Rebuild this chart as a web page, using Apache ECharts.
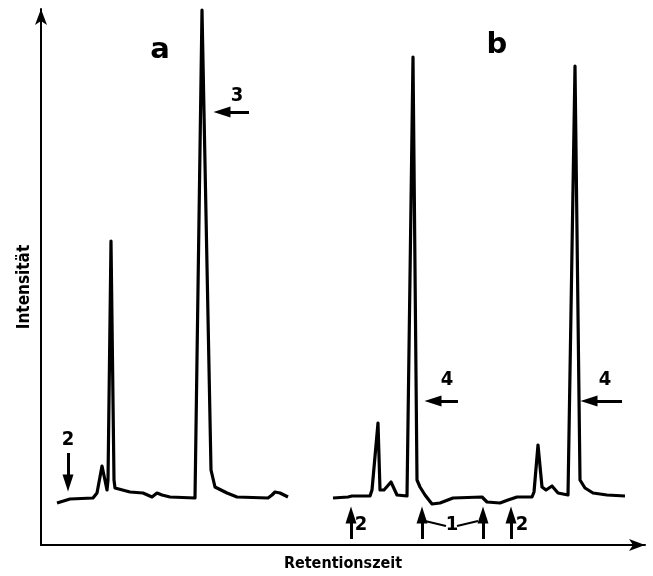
<!DOCTYPE html>
<html>
<head>
<meta charset="utf-8">
<script src="https://cdn.jsdelivr.net/npm/echarts@6.0.0/dist/echarts.min.js"></script>
<style>
  html, body { margin: 0; padding: 0; background: #fff; }
  #chart { width: 653px; height: 576px; }
</style>
</head>
<body>
<div id="chart"></div>
<script>
// chromatogram a: retention time / intensity (arbitrary units)
const timeA = [16, 29, 52, 56, 61, 66, 67, 70, 73, 74, 76, 89, 102, 111, 116, 121, 129, 154, 161, 170, 174, 186, 196, 227, 231, 234, 239, 247];
const intensityA = [42, 46, 47, 52, 79, 55, 65, 304, 65, 57, 55, 53, 52, 48, 52, 50, 48, 47, 535, 75, 58, 52, 48, 47, 50, 53, 52, 48];

// chromatogram b
const timeB = [292, 307, 311, 329, 331, 337, 339, 343, 350, 356, 366, 372, 376, 379, 384, 391, 399, 412, 441, 446, 459, 467, 476, 491, 493, 497, 501, 505, 511, 517, 527, 534, 539, 544, 552, 566, 584];
const intensityB = [47, 48, 49, 49, 55, 122, 55, 55, 63, 50, 49, 488, 65, 58, 50, 41, 42, 47, 48, 43, 42, 45, 48, 48, 53, 100, 58, 55, 59, 52, 50, 479, 65, 57, 52, 50, 49];

// peak annotations
const labelTexts = ['a', 'b', '2', '3', '4', '4', '2', '1', '2'];
const labelTimes = [119, 456, 27, 196, 406, 564, 320, 411, 481];
const labelLevels = [495, 500, 105, 449, 165, 165, 20, 20, 20];
const labelSizes = [29, 29, 20, 20, 20, 20, 20, 20, 20];

// arrows: [t1, y1, t2, y2]
const arrows = [
  [27, 92, 27, 62],
  [208, 433, 181, 433],
  [417, 144, 392, 144],
  [581, 144, 548, 144],
  [310, 6, 310, 30],
  [381, 6, 381, 30],
  [442, 6, 442, 30],
  [470, 6, 470, 30]
];
const dashes = [
  [384, 24, 405, 19],
  [416, 19, 437, 24]
];

const font = '"DejaVu Sans Condensed", "DejaVu Sans", sans-serif';

const chart = echarts.init(document.getElementById('chart'));
chart.setOption({
  animation: false,
  grid: { left: 41, right: 8, top: 9, bottom: 31, outerBoundsMode: 'none' },
  xAxis: {
    type: 'value', min: 0, max: 604,
    name: 'Retentionszeit', nameLocation: 'middle', nameGap: 11,
    nameTextStyle: { fontFamily: font, fontWeight: 'bold', fontSize: 16, color: '#000' },
    axisLine: { lineStyle: { color: '#000', width: 2 }, symbol: ['none', 'arrow'], symbolSize: [9, 16] },
    axisTick: { show: false }, axisLabel: { show: false }, splitLine: { show: false }
  },
  yAxis: {
    type: 'value', min: 0, max: 536,
    name: 'Intensität', nameLocation: 'middle', nameGap: 8, nameRotate: 90,
    nameTextStyle: { fontFamily: font, fontWeight: 'bold', fontSize: 17, color: '#000', padding: [0, 20, 0, 0] },
    axisLine: { lineStyle: { color: '#000', width: 2 }, symbol: ['none', 'arrow'], symbolSize: [9, 16] },
    axisTick: { show: false }, axisLabel: { show: false }, splitLine: { show: false }
  },
  series: [
    {
      type: 'line', showSymbol: false, silent: true,
      lineStyle: { color: '#000', width: 3.2, join: 'round' },
      data: timeA.map((t, i) => [t, intensityA[i]])
    },
    {
      type: 'line', showSymbol: false, silent: true,
      lineStyle: { color: '#000', width: 3.2, join: 'round' },
      data: timeB.map((t, i) => [t, intensityB[i]])
    },
    {
      type: 'scatter', silent: true, symbolSize: 1,
      itemStyle: { color: 'transparent', opacity: 1 },
      label: {
        show: true, position: 'inside', color: '#000', opacity: 1,
        fontFamily: font, fontWeight: 'bold',
        formatter: p => p.data.text
      },
      data: labelTexts.map((s, i) => ({
        value: [labelTimes[i], labelLevels[i]],
        text: s,
        label: {
          color: '#000',
          fontSize: labelSizes[i],
          fontFamily: labelSizes[i] > 25 ? '"DejaVu Sans", sans-serif' : font
        }
      })),
      markLine: {
        silent: true, animation: false,
        symbol: ['none', 'triangle'], symbolSize: [11, 17],
        label: { show: false },
        lineStyle: { color: '#000', width: 3, type: 'solid' },
        data: arrows.map(a => [{ coord: [a[0], a[1]] }, { coord: [a[2], a[3]] }])
          .concat(dashes.map(d => [
            { coord: [d[0], d[1]], symbol: 'none', lineStyle: { width: 2 } },
            { coord: [d[2], d[3]], symbol: 'none' }
          ]))
      }
    }
  ]
});
window.addEventListener('resize', () => chart.resize());
</script>
</body>
</html>
